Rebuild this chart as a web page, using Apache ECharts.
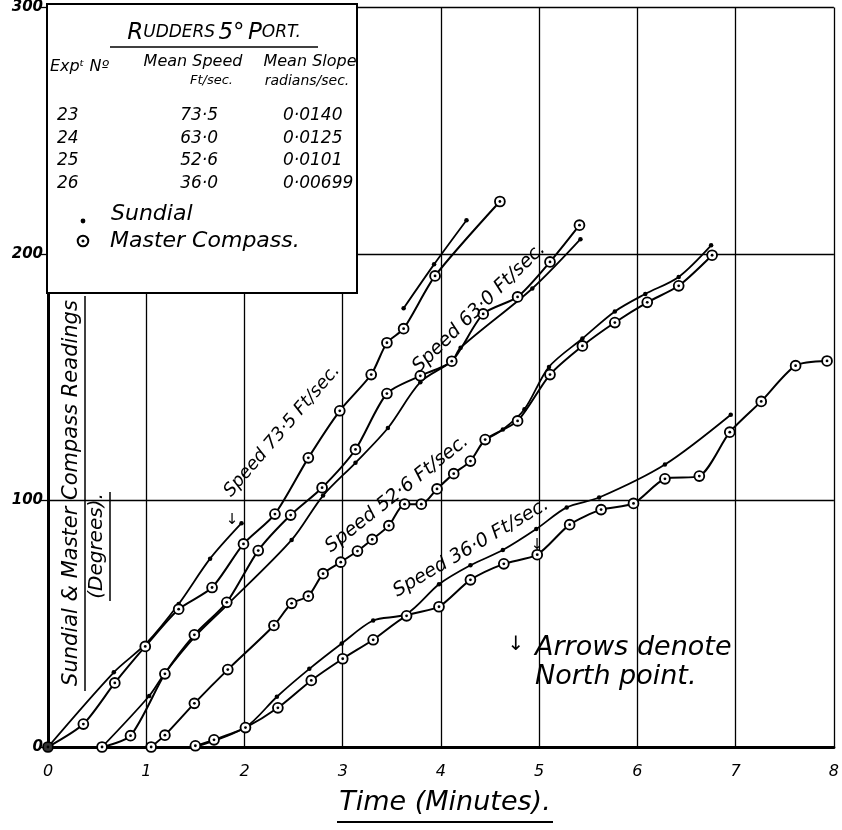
<!DOCTYPE html>
<html><head><meta charset="utf-8">
<script src="https://cdn.jsdelivr.net/npm/echarts@6/dist/echarts.min.js"></script>
<style>html,body{margin:0;padding:0;background:#fff}#c{width:842px;height:830px}</style>
</head><body><div id="c"></div>
<script>
// Tick values
var xTicks = [0,1,2,3,4,5,6,7,8];
var yTicks = [0,100,200,300];
// Speed 73.5 ft/sec (Expt 23)
var compass735 = [[0,0],[0.36,9.3],[0.68,26],[0.99,40.8],[1.33,55.9],[1.67,64.7],[1.99,82.4],[2.31,94.5],[2.65,117.3],[2.97,136.4],[3.29,151.1],[3.45,164],[3.62,169.7],[3.94,191.1],[4.60,221.3]];
var sundial735a = [[0,0],[0.67,30.3],[1.0,42],[1.33,58],[1.65,76.4],[1.97,90.8]];
var sundial735b = [[3.62,178],[3.93,195.8],[4.26,213.7]];
// Speed 63.0 ft/sec (Expt 24)
var compass630 = [[0.55,0],[0.84,4.6],[1.19,29.7],[1.49,45.5],[1.82,58.7],[2.14,79.7],[2.47,94.1],[2.79,105.2],[3.13,120.7],[3.45,143.4],[3.79,150.6],[4.11,156.5],[4.43,175.7],[4.78,182.6],[5.11,196.8],[5.41,211.7]];
var sundial630 = [[0.55,0],[1.03,20.7],[1.19,30],[1.5,45],[1.82,57.5],[2.48,84],[2.8,102],[3.13,115.3],[3.46,129.4],[3.79,148],[4.11,156.5],[4.2,162],[4.93,186],[5.42,206]];
// Speed 52.6 ft/sec (Expt 25)
var compass526 = [[1.05,0],[1.19,4.8],[1.49,17.7],[1.83,31.4],[2.30,49.3],[2.48,58.3],[2.65,61.2],[2.80,70.3],[2.98,75],[3.15,79.5],[3.30,84.2],[3.47,89.8],[3.63,98.5],[3.80,98.5],[3.96,104.7],[4.13,110.9],[4.30,116],[4.45,124.7],[4.78,132.3],[5.11,151.1],[5.44,162.7],[5.77,172.2],[6.10,180.4],[6.42,187.1],[6.76,199.5]];
var sundial526 = [[4.45,124.7],[4.63,128.8],[4.85,137],[5.10,154.2],[5.44,165.7],[5.77,176.7],[6.08,183.8],[6.42,190.7],[6.75,203.5]];
// Speed 36.0 ft/sec (Expt 26)
var compass360 = [[1.50,0.5],[1.69,2.9],[2.01,7.9],[2.34,15.9],[2.68,27],[3.0,35.8],[3.31,43.5],[3.65,53.2],[3.98,56.9],[4.30,67.8],[4.64,74.3],[4.98,78],[5.31,90.2],[5.63,96.3],[5.96,98.8],[6.28,108.8],[6.63,109.9],[6.94,127.7],[7.26,140.2],[7.61,154.7],[7.93,156.6]];
var sundial360 = [[1.5,0],[2.01,8],[2.33,20.4],[2.66,31.7],[2.99,42],[3.31,51.3],[3.65,54],[3.98,66],[4.30,73.7],[4.63,79.9],[4.97,88.4],[5.28,97.2],[5.61,101.2],[6.28,114.6],[6.95,134.8]];
// Legend table
var tableExp = ['23','24','25','26'];
var tableSpeed = ['73·5','63·0','52·6','36·0'];
var tableSlope = ['0·0140','0·0125','0·0101','0·00699'];

var FONT = '"DejaVu Sans", "Liberation Sans", sans-serif';
var compassSvg = '<svg xmlns="http://www.w3.org/2000/svg" width="14" height="14"><circle cx="7" cy="7" r="5.3" fill="white" stroke="black" stroke-width="2"/><circle cx="7" cy="7" r="1.5" fill="black"/></svg>';
var compassSym = 'image://data:image/svg+xml;utf8,' + encodeURIComponent(compassSvg);

function compassSeries(d){return {type:'line',data:d,smooth:0.25,symbol:compassSym,symbolSize:13,showAllSymbol:true,lineStyle:{color:'#000',width:2},z:5,animation:false};}
function sundialSeries(d){return {type:'line',data:d,smooth:0.3,symbol:'circle',symbolSize:4.5,showAllSymbol:true,itemStyle:{color:'#000'},lineStyle:{color:'#000',width:1.8},z:4,animation:false};}

var chart = echarts.init(document.getElementById('c'));
var g = [];
function txt(x,y,t,size,opt){opt=opt||{};g.push({type:'text',x:x,y:y,rotation:opt.rot||0,z:20,style:{text:t,font:'italic '+(opt.weight||'normal')+' '+size+'px '+FONT,fill:'#000',align:opt.align||'left',verticalAlign:'middle'}});}
function ln(x1,y1,x2,y2,w){g.push({type:'line',z:20,shape:{x1:x1,y1:y1,x2:x2,y2:y2},style:{stroke:'#000',lineWidth:w||1.5}});}

// legend box
g.push({type:'rect',z:15,shape:{x:47,y:4,width:310,height:289},style:{fill:'#fff',stroke:'#000',lineWidth:2}});
g.push({type:'text',x:214,y:33,z:20,style:{text:'{a|R}{b|UDDERS} {a|5°} {a|P}{b|ORT.}',align:'center',verticalAlign:'middle',rich:{a:{font:'italic 23px '+FONT,fill:'#000'},b:{font:'italic 17px '+FONT,fill:'#000'}}}});
ln(110,47,318,47,1.5);
txt(50,67,'Expᵗ Nº',16);
txt(193,62,'Mean Speed',16,{align:'center'});
txt(233,81,'Ft/sec.',13,{align:'right'});
txt(310,62,'Mean Slope',16,{align:'center'});
txt(307,81,'radians/sec.',14,{align:'center'});
var rowY=[116,139,161,184];
for(var i=0;i<tableExp.length;i++){
  txt(57,rowY[i],tableExp[i],17);
  txt(218,rowY[i],tableSpeed[i],17,{align:'right'});
  txt(283,rowY[i],tableSlope[i],17);
}
g.push({type:'circle',z:20,shape:{cx:83,cy:221,r:2.4},style:{fill:'#000'}});
txt(111,214,'Sundial',22);
g.push({type:'image',z:20,style:{image:'data:image/svg+xml;utf8,'+encodeURIComponent(compassSvg),x:76,y:234,width:14,height:14}});
txt(110,241,'Master Compass.',22);

// curve labels
txt(282,431,'Speed 73·5 Ft/sec.',18,{align:'center',rot:0.86});
txt(479,308,'Speed 63·0 Ft/sec.',19,{align:'center',rot:0.77});
txt(397,494,'Speed 52·6 Ft/sec.',19,{align:'center',rot:0.67});
txt(471,548,'Speed 36·0 Ft/sec.',19,{align:'center',rot:0.53});
// arrows
txt(232,520,'↓',15,{align:'center'});
txt(537,545,'↓',15,{align:'center'});
txt(516,645,'↓',20,{align:'center'});
txt(535,648,'Arrows denote',27);
txt(535,677,'North point.',27);
// axis titles
txt(72,493,'Sundial & Master Compass Readings',21,{align:'center',rot:Math.PI/2});
ln(85,296,85,691,1.5);
txt(97,546,'(Degrees).',20,{align:'center',rot:Math.PI/2});
ln(110,492,110,601,1.5);
txt(445,803,'Time (Minutes).',27,{align:'center'});
ln(337,822,553,822,1.8);

chart.setOption({
  animation:false,
  grid:{left:48,right:5,top:3,bottom:83},
  xAxis:{type:'value',min:xTicks[0],max:xTicks[xTicks.length-1],interval:1,
    axisLine:{show:true,onZero:false,lineStyle:{color:'#000',width:3}},
    axisTick:{show:false},
    axisLabel:{margin:17,color:'#000',fontSize:16,fontStyle:'italic',fontFamily:FONT},
    splitLine:{show:true,lineStyle:{color:'#000',width:1.3}}},
  yAxis:{type:'value',min:yTicks[0],max:yTicks[yTicks.length-1],interval:100,
    axisLine:{show:true,onZero:false,lineStyle:{color:'#000',width:3}},
    axisTick:{show:true,length:8,lineStyle:{color:'#000',width:1.3}},
    axisLabel:{margin:5,color:'#000',fontSize:15,fontStyle:'italic',fontWeight:'bold',fontFamily:FONT},
    splitLine:{show:true,lineStyle:{color:'#000',width:1.3}}},
  series:[
    sundialSeries(sundial735a),sundialSeries(sundial735b),sundialSeries(sundial630),sundialSeries(sundial526),sundialSeries(sundial360),
    compassSeries(compass735),compassSeries(compass630),compassSeries(compass526),compassSeries(compass360),
    {type:'scatter',data:[compass735[0]],symbol:'circle',symbolSize:9,itemStyle:{color:'#000'},z:6,animation:false}
  ],
  graphic:g
});
</script></body></html>
